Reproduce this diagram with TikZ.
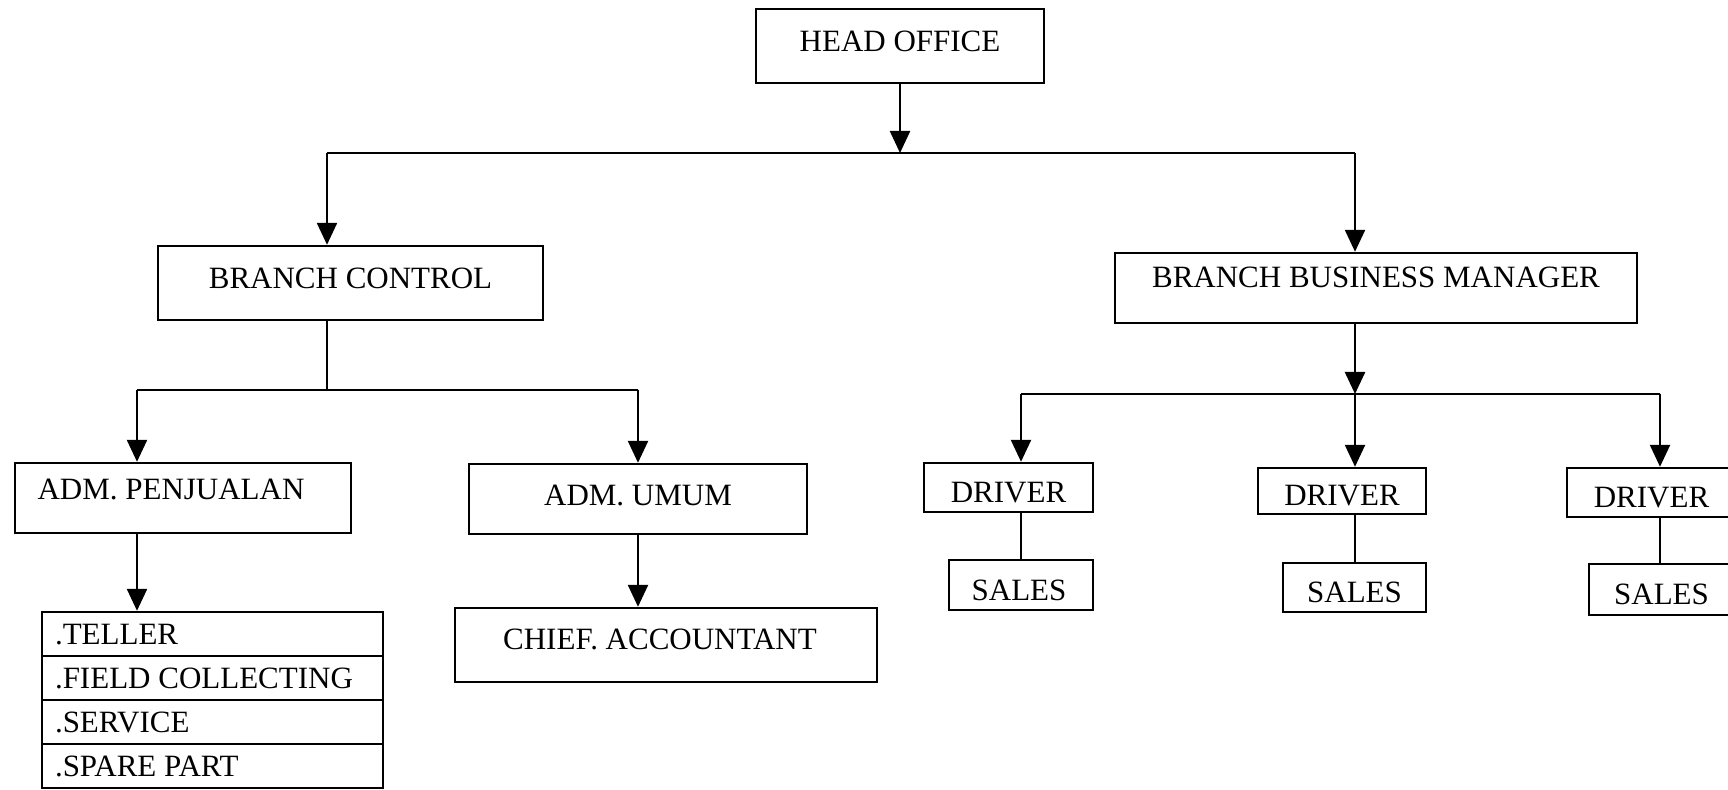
\documentclass[tikz,border=0pt]{standalone}
\usepackage{fontspec}
\setmainfont{Liberation Serif}
\usetikzlibrary{arrows.meta}
\newcommand{\tx}[3]{\raisebox{#2}{\kern#1\relax #3\kern-#1\relax}}
\begin{document}
\begin{tikzpicture}[x=0.5pt,y=-0.5pt,
  every node/.style={font=\fontsize{15.5pt}{18pt}\selectfont},
  box/.style={draw,line width=1.2pt,rectangle,inner sep=0pt,text height=10.2pt,text depth=0pt},
  rowbox/.style={box,minimum width=170.5pt,minimum height=22pt},
  conn/.style={line width=1.2pt},
  arr/.style={conn,-{Triangle[length=11pt,width=10pt]}}]
\useasboundingbox (0,0) rectangle (1728,790);
\fill[white] (0,0) rectangle (1728,790);
% boxes
\node[box,minimum width=144pt,minimum height=37pt] (ho) at (900,46) {\tx{0pt}{2.5pt}{HEAD OFFICE}};
\node[box,minimum width=192.5pt,minimum height=37pt] (bc) at (350.5,283) {\tx{0pt}{2.5pt}{BRANCH CONTROL}};
\node[box,minimum width=261pt,minimum height=35pt] (bbm) at (1376,288) {\tx{0pt}{5.5pt}{BRANCH BUSINESS MANAGER}};
\node[box,minimum width=168pt,minimum height=35pt] (ap) at (183,498) {\tx{-6pt}{4.5pt}{ADM. PENJUALAN}};
\node[box,minimum width=169pt,minimum height=35pt] (au) at (638,499) {\tx{0pt}{2pt}{ADM. UMUM}};
\node[box,minimum width=211pt,minimum height=37pt] (ca) at (666,645) {\tx{-3pt}{3pt}{CHIEF. ACCOUNTANT}};
\node[rowbox] (l1) at (212.5,634) {\makebox[157.5pt][l]{.TELLER}};
\node[rowbox] (l2) at (212.5,678) {\makebox[157.5pt][l]{.FIELD COLLECTING}};
\node[rowbox] (l3) at (212.5,722) {\makebox[157.5pt][l]{.SERVICE}};
\node[rowbox] (l4) at (212.5,766) {\makebox[157.5pt][l]{.SPARE PART}};
\node[box,minimum width=84.5pt,minimum height=24.5pt] (d1) at (1008.5,487.5) {\tx{0pt}{-2.5pt}{DRIVER}};
\node[box,minimum width=72pt,minimum height=25pt] (s1) at (1021,585) {\tx{-1pt}{-2.5pt}{SALES}};
\node[box,minimum width=84pt,minimum height=23pt] (d2) at (1342,491) {\tx{0pt}{-2pt}{DRIVER}};
\node[box,minimum width=71.5pt,minimum height=24.5pt] (s2) at (1354.5,587.5) {\tx{0pt}{-2.5pt}{SALES}};
\node[box,minimum width=84.5pt,minimum height=24.5pt] (d3) at (1651.5,492.5) {\tx{0pt}{-2.5pt}{DRIVER}};
\node[box,minimum width=72.5pt,minimum height=25.5pt] (s3) at (1661.5,589.5) {\tx{0pt}{-2.5pt}{SALES}};
% junctions
\coordinate (t0) at (900,153);
\coordinate (tL) at (327,153);
\coordinate (tR) at (1355,153);
\coordinate (m0) at (327,390);
\coordinate (mL) at (137,390);
\coordinate (mR) at (638,390);
\coordinate (r0) at (1355,394);
\coordinate (rL) at (1021,394);
\coordinate (rR) at (1660,394);
% connectors
\draw[arr] (ho.south) -- (t0);
\draw[conn] (tL) -- (tR);
\draw[arr] (tL) -- (tL |- bc.north);
\draw[arr] (tR) -- (tR |- bbm.north);
\draw[conn] (m0 |- bc.south) -- (m0);
\draw[conn] (mL) -- (mR);
\draw[arr] (mL) -- (mL |- ap.north);
\draw[arr] (mR) -- (mR |- au.north);
\draw[arr] (mL |- ap.south) -- (mL |- l1.north);
\draw[arr] (mR |- au.south) -- (mR |- ca.north);
\draw[arr] (r0 |- bbm.south) -- (r0);
\draw[conn] (rL) -- (rR);
\draw[arr] (rL) -- (rL |- d1.north);
\draw[arr] (r0) -- (r0 |- d2.north);
\draw[arr] (rR) -- (rR |- d3.north);
\draw[conn] (rL |- d1.south) -- (rL |- s1.north);
\draw[conn] (r0 |- d2.south) -- (r0 |- s2.north);
\draw[conn] (rR |- d3.south) -- (rR |- s3.north);
\end{tikzpicture}
\end{document}
